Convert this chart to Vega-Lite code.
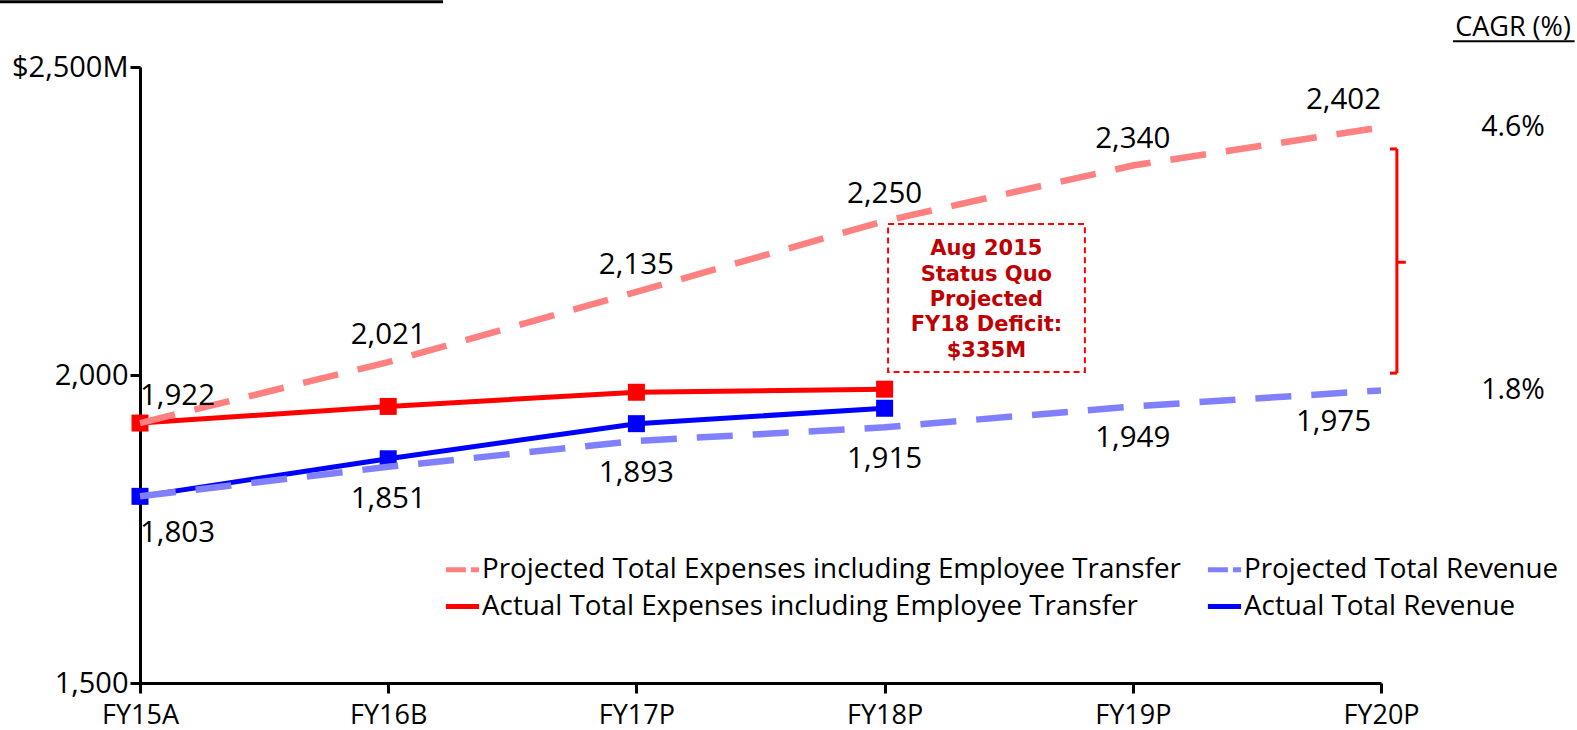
{
  "$schema": "https://vega.github.io/schema/vega-lite/v6.json",
  "width": 1241,
  "height": 616,
  "autosize": {"type": "none"},
  "padding": {"left": 140, "top": 67, "right": 196, "bottom": 47},
  "background": "white",
  "config": {
    "view": {"stroke": null},
    "font": "Open Sans",
    "axis": {"grid": false, "domainColor": "black", "domainWidth": 3, "tickColor": "black", "tickWidth": 3, "tickSize": 10, "labelColor": "black", "labelFont": "Open Sans", "labelFlush": false, "labelOverlap": false, "title": null}
  },
  "datasets": {
    "series": [
      {"year": 2015, "fy": "FY15A", "series": "Projected Total Expenses including Employee Transfer", "kind": "Projected", "value": 1922},
      {"year": 2016, "fy": "FY16B", "series": "Projected Total Expenses including Employee Transfer", "kind": "Projected", "value": 2021},
      {"year": 2017, "fy": "FY17P", "series": "Projected Total Expenses including Employee Transfer", "kind": "Projected", "value": 2135},
      {"year": 2018, "fy": "FY18P", "series": "Projected Total Expenses including Employee Transfer", "kind": "Projected", "value": 2250},
      {"year": 2019, "fy": "FY19P", "series": "Projected Total Expenses including Employee Transfer", "kind": "Projected", "value": 2340},
      {"year": 2020, "fy": "FY20P", "series": "Projected Total Expenses including Employee Transfer", "kind": "Projected", "value": 2402},
      {"year": 2015, "fy": "FY15A", "series": "Projected Total Revenue", "kind": "Projected", "value": 1803},
      {"year": 2016, "fy": "FY16B", "series": "Projected Total Revenue", "kind": "Projected", "value": 1851},
      {"year": 2017, "fy": "FY17P", "series": "Projected Total Revenue", "kind": "Projected", "value": 1893},
      {"year": 2018, "fy": "FY18P", "series": "Projected Total Revenue", "kind": "Projected", "value": 1915},
      {"year": 2019, "fy": "FY19P", "series": "Projected Total Revenue", "kind": "Projected", "value": 1949},
      {"year": 2020, "fy": "FY20P", "series": "Projected Total Revenue", "kind": "Projected", "value": 1975},
      {"year": 2015, "fy": "FY15A", "series": "Actual Total Expenses including Employee Transfer", "kind": "Actual", "value": 1922},
      {"year": 2016, "fy": "FY16B", "series": "Actual Total Expenses including Employee Transfer", "kind": "Actual", "value": 1949},
      {"year": 2017, "fy": "FY17P", "series": "Actual Total Expenses including Employee Transfer", "kind": "Actual", "value": 1972},
      {"year": 2018, "fy": "FY18P", "series": "Actual Total Expenses including Employee Transfer", "kind": "Actual", "value": 1977},
      {"year": 2015, "fy": "FY15A", "series": "Actual Total Revenue", "kind": "Actual", "value": 1803},
      {"year": 2016, "fy": "FY16B", "series": "Actual Total Revenue", "kind": "Actual", "value": 1864},
      {"year": 2017, "fy": "FY17P", "series": "Actual Total Revenue", "kind": "Actual", "value": 1921},
      {"year": 2018, "fy": "FY18P", "series": "Actual Total Revenue", "kind": "Actual", "value": 1946}
    ],
    "cagr": [
      {"label": "4.6%", "value": 2402},
      {"label": "1.8%", "value": 1975}
    ],
    "one": [{}]
  },
  "layer": [
    {
      "data": {"name": "series"},
      "transform": [{"filter": "datum.kind == 'Actual'"}],
      "mark": {"type": "line", "strokeWidth": 5, "point": {"filled": true, "shape": "square", "size": 289, "opacity": 1}},
      "encoding": {
        "x": {"field": "year", "type": "quantitative", "scale": {"domain": [2015, 2020], "nice": false, "zero": false},
              "axis": {"values": [2015, 2016, 2017, 2018, 2019, 2020], "labelExpr": "datum.value == 2015 ? 'FY15A' : datum.value == 2016 ? 'FY16B' : 'FY' + (datum.value - 2000) + 'P'", "labelFontSize": 27, "labelPadding": 9, "orient": "bottom"}},
        "y": {"field": "value", "type": "quantitative", "scale": {"domain": [1500, 2500], "nice": false, "zero": false},
              "axis": {"values": [1500, 2000, 2500], "labelExpr": "datum.value == 2500 ? '$2,500M' : format(datum.value, ',')", "labelFontSize": 29, "labelPadding": 2}},
        "color": {"field": "series", "type": "nominal",
                  "scale": {"domain": ["Projected Total Expenses including Employee Transfer", "Actual Total Expenses including Employee Transfer", "Projected Total Revenue", "Actual Total Revenue"],
                            "range": ["#FF8080", "#FF0000", "#8080FF", "#0000FF"]},
                  "legend": {"title": null, "orient": "none", "legendX": 303, "legendY": 483, "columns": 2, "columnPadding": 16, "rowPadding": 3,
                             "symbolType": "stroke", "symbolStrokeWidth": 5, "symbolSize": 1100, "labelFontSize": 27.8, "labelFont": "Open Sans", "labelColor": "black", "labelLimit": 0, "labelOffset": 0, "padding": 0,
                             "encode": {"symbols": {"update": {"strokeDash": {"signal": "indexof(datum.label, 'Projected') >= 0 ? [20, 5] : [1, 0]"}}}}}}
      }
    },
    {
      "data": {"name": "series"},
      "transform": [{"filter": "datum.kind == 'Projected'"}],
      "mark": {"type": "line", "strokeWidth": 6.5, "strokeDash": [36, 20]},
      "encoding": {
        "x": {"field": "year", "type": "quantitative"},
        "y": {"field": "value", "type": "quantitative"},
        "color": {"field": "series", "type": "nominal"}
      }
    },
    {
      "data": {"name": "series"},
      "transform": [{"filter": "datum.kind == 'Projected'"}],
      "mark": {"type": "text", "fontSize": 29.5, "color": "black", "baseline": "middle",
               "align": {"expr": "datum.year == 2015 ? 'left' : datum.year == 2020 ? 'right' : 'center'"},
               "dy": {"expr": "indexof(datum.series, 'Expenses') >= 0 ? -27 : (datum.year == 2015 ? 37 : 32)"},
               "dx": {"expr": "datum.year == 2020 && indexof(datum.series, 'Revenue') >= 0 ? -10 : 0"}},
      "encoding": {
        "x": {"field": "year", "type": "quantitative"},
        "y": {"field": "value", "type": "quantitative"},
        "text": {"field": "value", "type": "quantitative", "format": ","}
      }
    },
    {
      "data": {"name": "cagr"},
      "mark": {"type": "text", "fontSize": 28.5, "color": "black", "align": "center", "baseline": "middle"},
      "encoding": {
        "x": {"datum": 2020.532, "type": "quantitative"},
        "y": {"field": "value", "type": "quantitative"},
        "text": {"field": "label"}
      }
    },
    {
      "data": {"name": "one"},
      "mark": {"type": "text", "fontSize": 27, "color": "black", "align": "center", "baseline": "middle", "text": "CAGR (%)"},
      "encoding": {"x": {"datum": 2020.532, "type": "quantitative"}, "y": {"datum": 2563, "type": "quantitative"}}
    },
    {
      "data": {"name": "one"},
      "mark": {"type": "rule", "color": "black", "strokeWidth": 2},
      "encoding": {"x": {"datum": 2020.29, "type": "quantitative"}, "x2": {"datum": 2020.78}, "y": {"datum": 2542, "type": "quantitative"}}
    },
    {
      "data": {"name": "one"},
      "mark": {"type": "rule", "color": "black", "strokeWidth": 3},
      "encoding": {"x": {"datum": 2014.436, "type": "quantitative"}, "x2": {"datum": 2016.221}, "y": {"datum": 2606, "type": "quantitative"}}
    },
    {
      "data": {"name": "one"},
      "mark": {"type": "rule", "color": "#FF0000", "strokeWidth": 3},
      "encoding": {"x": {"datum": 2020.064, "type": "quantitative"}, "y": {"datum": 2367, "type": "quantitative"}, "y2": {"datum": 2003}}
    },
    {
      "data": {"name": "one"},
      "mark": {"type": "rule", "color": "#FF0000", "strokeWidth": 3},
      "encoding": {"x": {"datum": 2020.036, "type": "quantitative"}, "x2": {"datum": 2020.064}, "y": {"datum": 2367, "type": "quantitative"}}
    },
    {
      "data": {"name": "one"},
      "mark": {"type": "rule", "color": "#FF0000", "strokeWidth": 3},
      "encoding": {"x": {"datum": 2020.036, "type": "quantitative"}, "x2": {"datum": 2020.064}, "y": {"datum": 2003, "type": "quantitative"}}
    },
    {
      "data": {"name": "one"},
      "mark": {"type": "rule", "color": "#FF0000", "strokeWidth": 3},
      "encoding": {"x": {"datum": 2020.064, "type": "quantitative"}, "x2": {"datum": 2020.1}, "y": {"datum": 2183, "type": "quantitative"}}
    },
    {
      "data": {"name": "one"},
      "mark": {"type": "rect", "fill": "white", "stroke": "#FF0000", "strokeWidth": 2, "strokeDash": [6, 4]},
      "encoding": {"x": {"datum": 2018.014, "type": "quantitative"}, "x2": {"datum": 2018.807}, "y": {"datum": 2245, "type": "quantitative"}, "y2": {"datum": 2005}}
    },
    {
      "data": {"name": "one"},
      "mark": {"type": "text", "font": "DejaVu Sans", "fontWeight": "bold", "fontSize": 21, "color": "#C00000", "align": "center", "baseline": "middle", "lineHeight": 25.3, "lineBreak": "\n",
               "text": "Aug 2015\nStatus Quo\nProjected\nFY18 Deficit:\n$335M"},
      "encoding": {"x": {"datum": 2018.41, "type": "quantitative"}, "y": {"datum": 2204, "type": "quantitative"}}
    }
  ]
}
